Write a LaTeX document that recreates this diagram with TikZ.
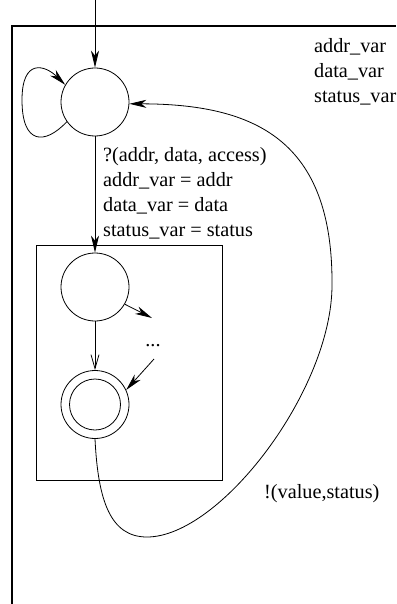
\documentclass[tikz,border=0pt]{standalone}
\usepackage{fontspec}
\setmainfont{Liberation Serif}
\usetikzlibrary{arrows.meta}
\begin{document}
\begin{tikzpicture}[x=1pt,y=-1pt,
  state/.style={draw,circle,minimum size=68pt,inner sep=0pt,line width=0.8pt},
  lbl/.style={anchor=base west,inner sep=0pt,font=\fontsize{20.25}{25}\selectfont},
  arr/.style={-{Stealth[length=17pt,width=8pt,inset=5pt]},line width=0.8pt},
  openarr/.style={-{Straight Barb[length=14pt,width=8pt,line width=0.8pt]},line width=0.8pt},
  frame/.style={line width=1.2pt},
  boxline/.style={line width=1pt}]
\useasboundingbox (0,0) rectangle (396,604);
% outer frame
\draw[frame] (12,604) -- (12,26) -- (396,26);
% states
\node[state] (s0) at (95,102) {};
\node[state] (s1) at (95,287) {};
\node[state] (s2) at (95,404.5) {};
\draw[line width=0.8pt] (s2.center) circle[radius=25.5];
% inner box
\draw[boxline] (36,245) rectangle (222,480);
% entry
\coordinate (in) at (95,0);
\draw[arr] (in) -- (s0);
% self loop
\draw[arr] (s0.215) .. controls (45,145) and (22,145) .. (22,100)
  .. controls (22,58) and (45,65) .. (s0.150);
% s0 -> s1
\draw[arr] (s0) -- (s1);
\node[lbl] (t1) at (103,161) {?(addr, data, access)};
\node[lbl] (t2) at (103,186) {addr\_var = addr};
\node[lbl] (t3) at (103,211) {data\_var = data};
\node[lbl] (t4) at (103,236) {status\_var = status};
% variables
\node[lbl] (v1) at (314,53) {addr\_var};
\node[lbl] (v2) at (314,78) {data\_var};
\node[lbl] (v3) at (314,103) {status\_var};
% inner transitions
\node[lbl,anchor=base] (dots) at (153,346) {...};
\coordinate (d1) at (152,318);
\coordinate (d2) at (154,359);
\draw[arr] (s1.-30) -- (d1);
\draw[arr] (d2) -- (s2.25);
\draw[openarr] (s1) -- (s2);
% return
\draw[arr] (s2.south) .. controls (98,500) and (110,537) .. (147,537)
  .. controls (220,537) and (332,390) .. (332,285)
  .. controls (333,140) and (255,104) .. (s0.-3);
\node[lbl] (ret) at (264,498) {!(value,status)};
\end{tikzpicture}
\end{document}
